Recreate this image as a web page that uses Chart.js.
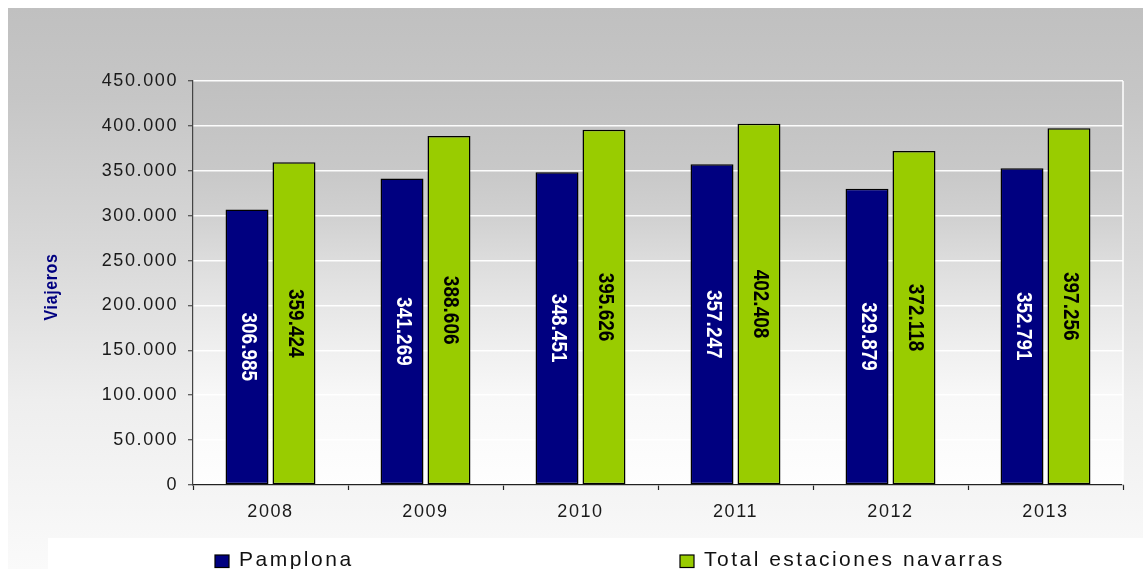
<!DOCTYPE html>
<html><head><meta charset="utf-8">
<script src="https://cdn.jsdelivr.net/npm/chart.js@4"></script>
<style>html,body{margin:0;padding:0;background:#fff;overflow:hidden}#wrap{position:relative;width:1143px;height:569px}</style>
</head><body><div id="wrap"><canvas id="c" width="1143" height="569"></canvas></div>
<script>
const years = ['2008', '2009', '2010', '2011', '2012', '2013'];
const pamplona = [306985, 341269, 348451, 357247, 329879, 352791];
const totalNavarra = [359424, 388606, 395626, 402408, 372118, 397256];
const seriesNames = ['Pamplona', 'Total estaciones navarras'];
const seriesColors = ['#000080', '#99cc00'];
const valueLabelColors = ['#ffffff', '#000000'];
const yMin = 0, yMax = 450000, yStep = 50000;
const yTitle = 'Viajeros';

const FONT = '"Liberation Sans", Arial, sans-serif';
function fmt(v) { return String(Math.round(v)).replace(/\B(?=(\d{3})+(?!\d))/g, '.'); }

const spacingPlugin = {
  id: 'spacing',
  beforeLayout(chart) { chart.ctx.letterSpacing = '1.6px'; },
  beforeDraw(chart) { chart.ctx.letterSpacing = '1.6px'; }
};

const bgPlugin = {
  id: 'bg',
  beforeDraw(chart) {
    const ctx = chart.ctx, ca = chart.chartArea;
    ctx.save();
    const g = ctx.createLinearGradient(0, 8, 0, 569);
    g.addColorStop(0, '#c0c0c0'); g.addColorStop(0.16, '#c6c6c6'); g.addColorStop(0.43, '#d8d8d8');
    g.addColorStop(0.7, '#eeeeee'); g.addColorStop(1, '#fafafa');
    ctx.fillStyle = g; ctx.fillRect(8, 8, 1135, 561);
    ctx.fillStyle = '#ffffff'; ctx.fillRect(48, 538, 1095, 31);
    const p = ctx.createLinearGradient(0, ca.top, 0, ca.bottom);
    p.addColorStop(0, '#c0c0c0'); p.addColorStop(0.11, '#c4c4c4'); p.addColorStop(0.22, '#c8c8c8');
    p.addColorStop(0.33, '#d0d0d0'); p.addColorStop(0.44, '#dcdcdc'); p.addColorStop(0.55, '#e6e6e6');
    p.addColorStop(0.67, '#f0f0f0'); p.addColorStop(0.78, '#f8f8f8'); p.addColorStop(1, '#fefefe');
    ctx.fillStyle = p; ctx.fillRect(ca.left, ca.top, ca.right - ca.left, ca.bottom - ca.top);
    ctx.restore();
  },
  beforeDatasetsDraw(chart) {
    const ctx = chart.ctx, ca = chart.chartArea;
    ctx.save();
    ctx.strokeStyle = '#ffffff'; ctx.lineWidth = 1.5;
    ctx.beginPath(); ctx.moveTo(ca.right, ca.top); ctx.lineTo(ca.right, ca.bottom); ctx.stroke();
    ctx.restore();
  }
};

const valueLabelPlugin = {
  id: 'valueLabels',
  afterDatasetsDraw(chart) {
    const ctx = chart.ctx;
    chart.data.datasets.forEach((ds, i) => {
      const meta = chart.getDatasetMeta(i);
      meta.data.forEach((bar, j) => {
        const cy = (bar.y + bar.base) / 2;
        ctx.save();
        ctx.letterSpacing = '0px';
        ctx.translate(bar.x + 1, cy);
        ctx.scale(1.2, 1);
        ctx.rotate(Math.PI / 2);
        ctx.font = 'bold 19px ' + FONT;
        ctx.fillStyle = valueLabelColors[i];
        ctx.textAlign = 'center'; ctx.textBaseline = 'middle';
        ctx.fillText(fmt(ds.data[j]), 0, 0);
        ctx.restore();
      });
    });
  }
};

const titleLegendPlugin = {
  id: 'titleLegend',
  afterDraw(chart) {
    const ctx = chart.ctx, ca = chart.chartArea;
    ctx.save();
    // y axis title
    ctx.letterSpacing = '0.6px';
    ctx.translate(51.5, 287);
    ctx.scale(1.15, 1);
    ctx.rotate(-Math.PI / 2);
    ctx.font = 'bold 16px ' + FONT;
    ctx.fillStyle = '#000080';
    ctx.textAlign = 'center'; ctx.textBaseline = 'middle';
    ctx.fillText(yTitle, 0, 0);
    ctx.restore();

    const xs = [215, 680];
    ctx.save();
    ctx.font = '21px ' + FONT;
    ctx.letterSpacing = '2.5px';
    ctx.textBaseline = 'alphabetic';
    chart.data.datasets.forEach((ds, i) => {
      const x = xs[i];
      ctx.fillStyle = ds.backgroundColor;
      ctx.fillRect(x, 555, 14, 12.5);
      ctx.strokeStyle = '#000'; ctx.lineWidth = 1.2;
      ctx.strokeRect(x, 555, 14, 12.5);
      ctx.fillStyle = '#111111';
      ctx.fillText(ds.label, x + 24, 566);
    });
    ctx.restore();
  }
};

new Chart(document.getElementById('c'), {
  type: 'bar',
  data: {
    labels: years,
    datasets: [
      { label: seriesNames[0], data: pamplona, backgroundColor: seriesColors[0] },
      { label: seriesNames[1], data: totalNavarra, backgroundColor: seriesColors[1] }
    ]
  },
  options: {
    responsive: false,
    animation: false,
    devicePixelRatio: 1,
    layout: { padding: { left: 0, right: 20, top: 81, bottom: 0 } },
    datasets: {
      bar: { barPercentage: 0.915, categoryPercentage: 0.606, borderColor: '#000000', borderWidth: 1.5, borderSkipped: false }
    },
    plugins: { legend: { display: false }, tooltip: { enabled: false } },
    scales: {
      x: {
        grid: { drawOnChartArea: false, drawTicks: true, tickLength: 5, tickColor: '#222222', tickWidth: 1.2, offset: true },
        border: { color: '#222222', width: 1.2 },
        ticks: { color: '#1a1a1a', font: { family: FONT, size: 18 }, padding: 11 },
        afterFit(s) { s.height = 84; }
      },
      y: {
        min: yMin, max: yMax,
        grid: { color: 'rgba(255,255,255,0.95)', lineWidth: 1.5, drawTicks: true, tickLength: 5, tickColor: '#333333', tickWidth: 1 },
        border: { color: '#444444', width: 1.2 },
        ticks: { stepSize: yStep, color: '#1a1a1a', font: { family: FONT, size: 18 }, padding: 10, callback: v => fmt(v) },
        title: { display: false },
        afterFit(s) { s.width = 193; }
      }
    }
  },
  plugins: [spacingPlugin, bgPlugin, valueLabelPlugin, titleLegendPlugin]
});
</script></body></html>
